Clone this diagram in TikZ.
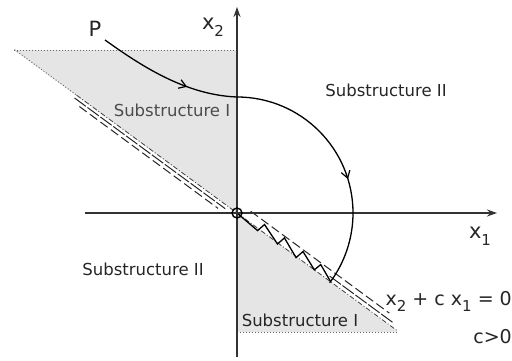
\documentclass[tikz,border=0pt]{standalone}
\usepackage{fontspec}
\setmainfont{DejaVu Sans}
\usetikzlibrary{arrows.meta,decorations.markings}
\newcommand\lowsub[2]{\raisebox{-0.32em}{\fontsize{#1}{#1}\selectfont #2}}
\tikzset{
  axisline/.style={line width=1.6pt, draw=black!80, -{Stealth[length=10pt,width=7pt]}},
  region/.style={fill=black!10, draw=none},
  bound/.style={line width=0.8pt, draw=black!75, dash pattern=on 5pt off 2pt on 1pt off 2pt},
  dotline/.style={line width=0.9pt, draw=black!60, dash pattern=on 1pt off 2pt},
  par1/.style={line width=1pt, draw=black!85, dash pattern=on 14pt off 2pt},
  par2/.style={line width=1pt, draw=black!85, dash pattern=on 9pt off 4pt},
  path/.style={line width=1.3pt, draw=black},
  midarrow/.style={postaction={decorate}, decoration={markings,
     mark=at position #1 with {\arrow{Straight Barb[length=7pt,width=9pt,line width=1.2pt]}}}},
  lbl/.style={font=\fontsize{16.5}{18}\selectfont, text=black!85, inner sep=0pt},
  eqlbl/.style={font=\fontsize{19}{21}\selectfont, text=black!85, inner sep=0pt},
  biglbl/.style={font=\fontsize{21}{24}\selectfont, text=black!85, inner sep=0pt},
}
\begin{document}
\begin{tikzpicture}[x=1pt,y=1pt]
\useasboundingbox (0,0) rectangle (512,360);
% shaded regions
\fill[region] (14,310) -- (237,310) -- (237,147) -- cycle;
\fill[region] (237,147) -- (237,28) -- (398,28) -- cycle;
% dotted horizontal borders
\coordinate (A) at (14,310);
\coordinate (T) at (237,310);
\coordinate (B) at (237,28);
\coordinate (C) at (398,28);
\draw[dotline] (A) -- (T);
\draw[dotline] (B) -- (C);
% diagonal x2 + c x1 = 0 with parallel lines
\begin{scope}[shift={(237,147)}, rotate=-36.3]
  \draw[dotline] (-276,0) -- (-199,0);
  \draw[bound] (-199,0) -- (0,0);
  \draw[par1] (-199,-3.5) -- (-12,-3.5);
  \draw[par2] (-190,-7.5) -- (-18,-7.5);
  \draw[bound] (0,0) -- (200,0);
  \draw[par1] (112,4) -- (192,4);
  \draw[par2] (10,9.5) -- (182,9.5);
  \draw[line width=1.3pt, line join=miter]
    (0,0) -- (27,-2) -- (29,7) -- (51,-1) -- (53,8) -- (74,-1) -- (76,8)
    -- (96,0) -- (98,8) -- (116.4,0);
\end{scope}
% axes
\coordinate (O) at (237,147);
\coordinate (xl) at (85,147);
\coordinate (xr) at (497,147);
\coordinate (yb) at (237,3);
\coordinate (yt) at (237,353);
\draw[axisline] (xl) -- (xr);
\draw[axisline] (yb) -- (yt);
\draw[line width=1.4pt, black] (O) circle (5pt);
% trajectory
\node[biglbl] (P) at (95,331) {P};
\coordinate (S) at (105,320);
\coordinate (Q) at (237,263);
\draw[path, midarrow=0.65] (S) .. controls (140,295) and (185,265) .. (Q);
\draw[path, midarrow=0.575] (Q) arc[start angle=90, end angle=-37, radius=116];
% labels
\node[biglbl] (x2) at (213,333) {x\lowsub{15}{2}};
\node[biglbl] (x1) at (480,124) {x\lowsub{15}{1}};
\node[lbl, text=black!70] (s1a) at (172,250) {Substructure I};
\node[lbl] (s1b) at (300,40) {Substructure I};
\node[lbl] (s2a) at (386,270) {Substructure II};
\node[lbl] (s2b) at (143,91) {Substructure II};
\node[eqlbl, anchor=east] (eq) at (512,59) {x\lowsub{15}{2} + c x\lowsub{15}{1} = 0};
\node[eqlbl, anchor=east] (cc) at (512,23) {c>0};
\end{tikzpicture}
\end{document}
